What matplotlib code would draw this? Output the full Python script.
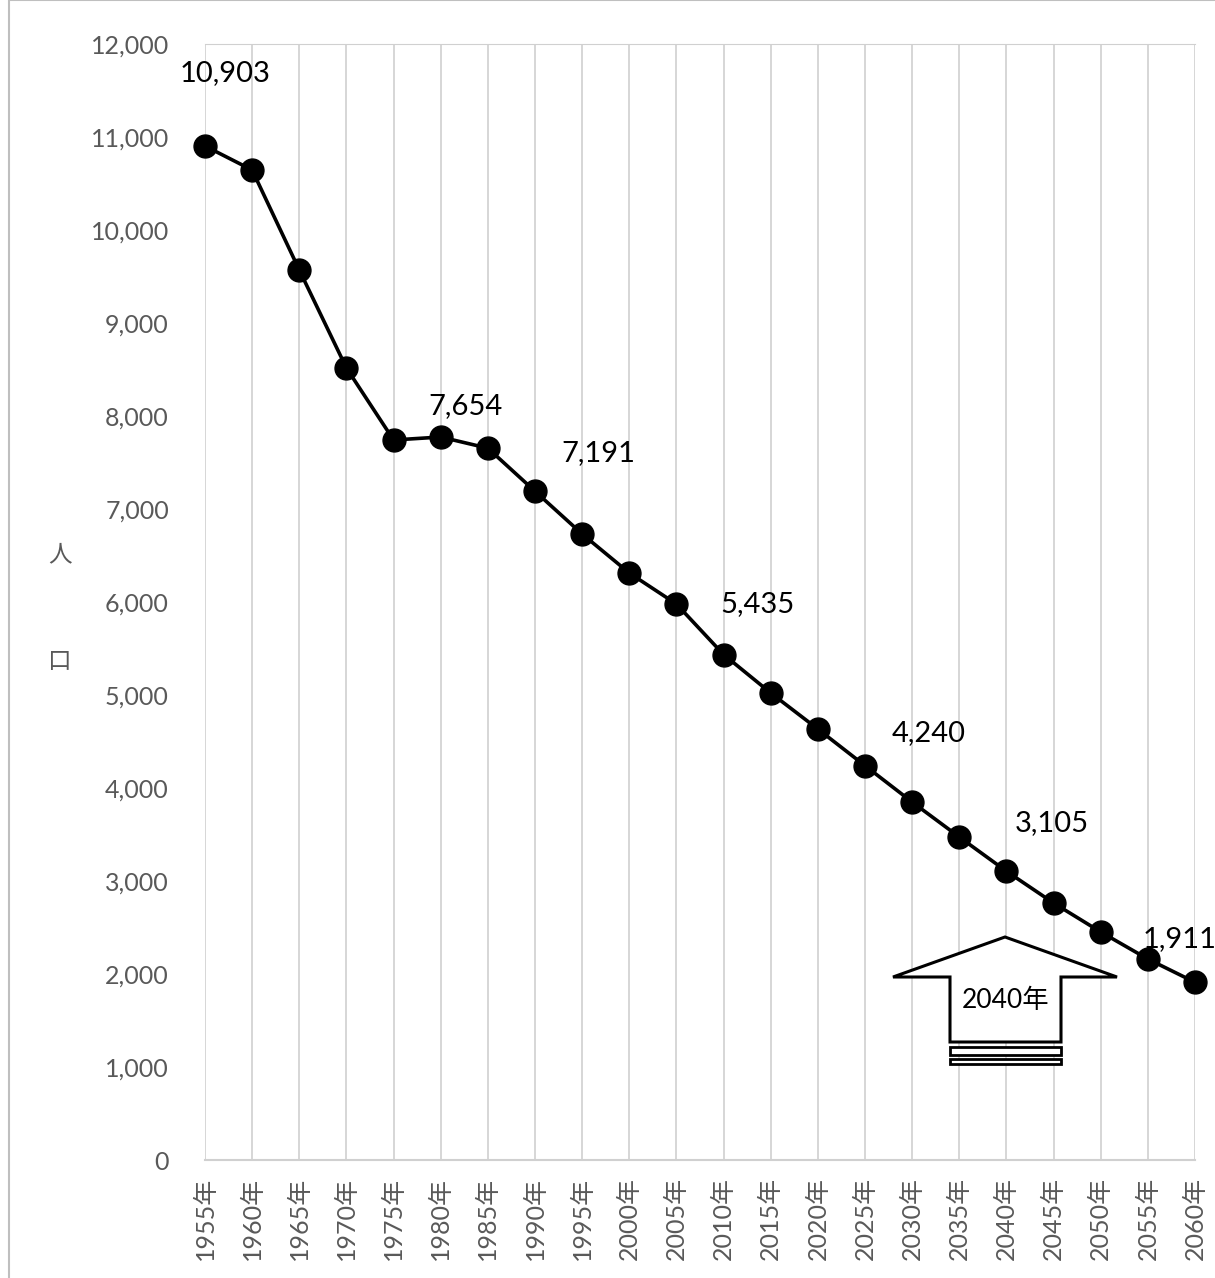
import matplotlib.pyplot as plt
from matplotlib.patches import Polygon, Rectangle

plt.rcParams['font.family'] = ['Lato', 'Noto Sans CJK JP', 'DejaVu Sans']

# データ
years = [1955, 1960, 1965, 1970, 1975, 1980, 1985, 1990, 1995, 2000, 2005,
         2010, 2015, 2020, 2025, 2030, 2035, 2040, 2045, 2050, 2055, 2060]
population = [10903, 10645, 9570, 8516, 7742, 7774, 7654, 7191, 6731, 6312, 5978,
              5435, 5022, 4634, 4240, 3849, 3473, 3105, 2763, 2452, 2161, 1911]
tick_labels = [f'{y}年' for y in years]

# ラベルを付ける年と、その位置のずらし方(ピクセル)
label_years = [1955, 1985, 1990, 2010, 2025, 2040, 2060]
label_offsets = [(20, 73), (-22, 42), (63, 38), (34, 50), (64, 33), (45, 48), (-15, 43)]

W, H = 1215, 1278
fig = plt.figure(figsize=(W / 100, H / 100), dpi=100)
ax = fig.add_axes([205 / W, (H - 1160) / H, 990 / W, 1116 / H])

xs = list(range(len(years)))
ax.plot(xs, population, color='black', lw=2.6, marker='o', markersize=16.5,
        clip_on=False, zorder=5)

for yr, (dx, dy) in zip(label_years, label_offsets):
    i = years.index(yr)
    ax.annotate(f'{population[i]:,}', (xs[i], population[i]), xytext=(dx, dy),
                textcoords='offset pixels', ha='center', va='center',
                fontsize=21, color='black', zorder=6)

ax.set_xlim(0, len(years) - 1)
ax.set_ylim(0, 12000)
ax.set_yticks(range(0, 12001, 1000))
ax.set_yticklabels([f'{v:,}' for v in range(0, 12001, 1000)])
ax.set_xticks(xs)
ax.set_xticklabels(tick_labels, rotation=90)
ax.tick_params(axis='both', length=0, labelsize=18, labelcolor='#595959')
ax.tick_params(axis='x', pad=12)
ax.tick_params(axis='y', pad=26)
ax.grid(axis='x', color='#d0d0d0', lw=1.2)
ax.grid(axis='y', visible=False)
for side in ['left', 'right']:
    ax.spines[side].set_visible(False)
ax.spines['bottom'].set_color('#d0d0d0')
ax.spines['bottom'].set_linewidth(1.5)
ax.spines['top'].set_color('#d0d0d0')
ax.spines['top'].set_linestyle((0, (3, 1)))

# 縦書きの軸ラベル
fig.text(60 / W, 1 - 555 / H, '人', fontsize=17, color='#595959', ha='center', va='center')
fig.text(60 / W, 1 - 662 / H, '口', fontsize=17, color='#595959', ha='center', va='center')

# 2040年の矢印
def px(x, y):
    return (x / W, 1 - y / H)

arrow = [px(1005, 937), px(1117, 977), px(1061, 977), px(1061, 1042),
         px(950, 1042), px(950, 977), px(893, 977)]
fig.patches.append(Polygon(arrow, closed=True, facecolor='white', edgecolor='black',
                           lw=2.2, transform=fig.transFigure, zorder=3))
for y0, y1 in [(1047, 1055), (1059, 1064)]:
    x0, yb = px(950, y1)
    x1, yt = px(1061, y0)
    fig.patches.append(Rectangle((x0, yb), x1 - x0, yt - yb, facecolor='white',
                                 edgecolor='black', lw=2, transform=fig.transFigure, zorder=3))
fig.text(*px(1006, 1001), '2040年', fontsize=19, ha='center', va='center', zorder=4)

# 外枠
fig.patches.append(Rectangle(px(9, 1290), 1.1, 1290 / H, facecolor='none',
                             edgecolor='#bfbfbf', lw=1.5, transform=fig.transFigure))

fig.savefig('out.png', dpi=100)
